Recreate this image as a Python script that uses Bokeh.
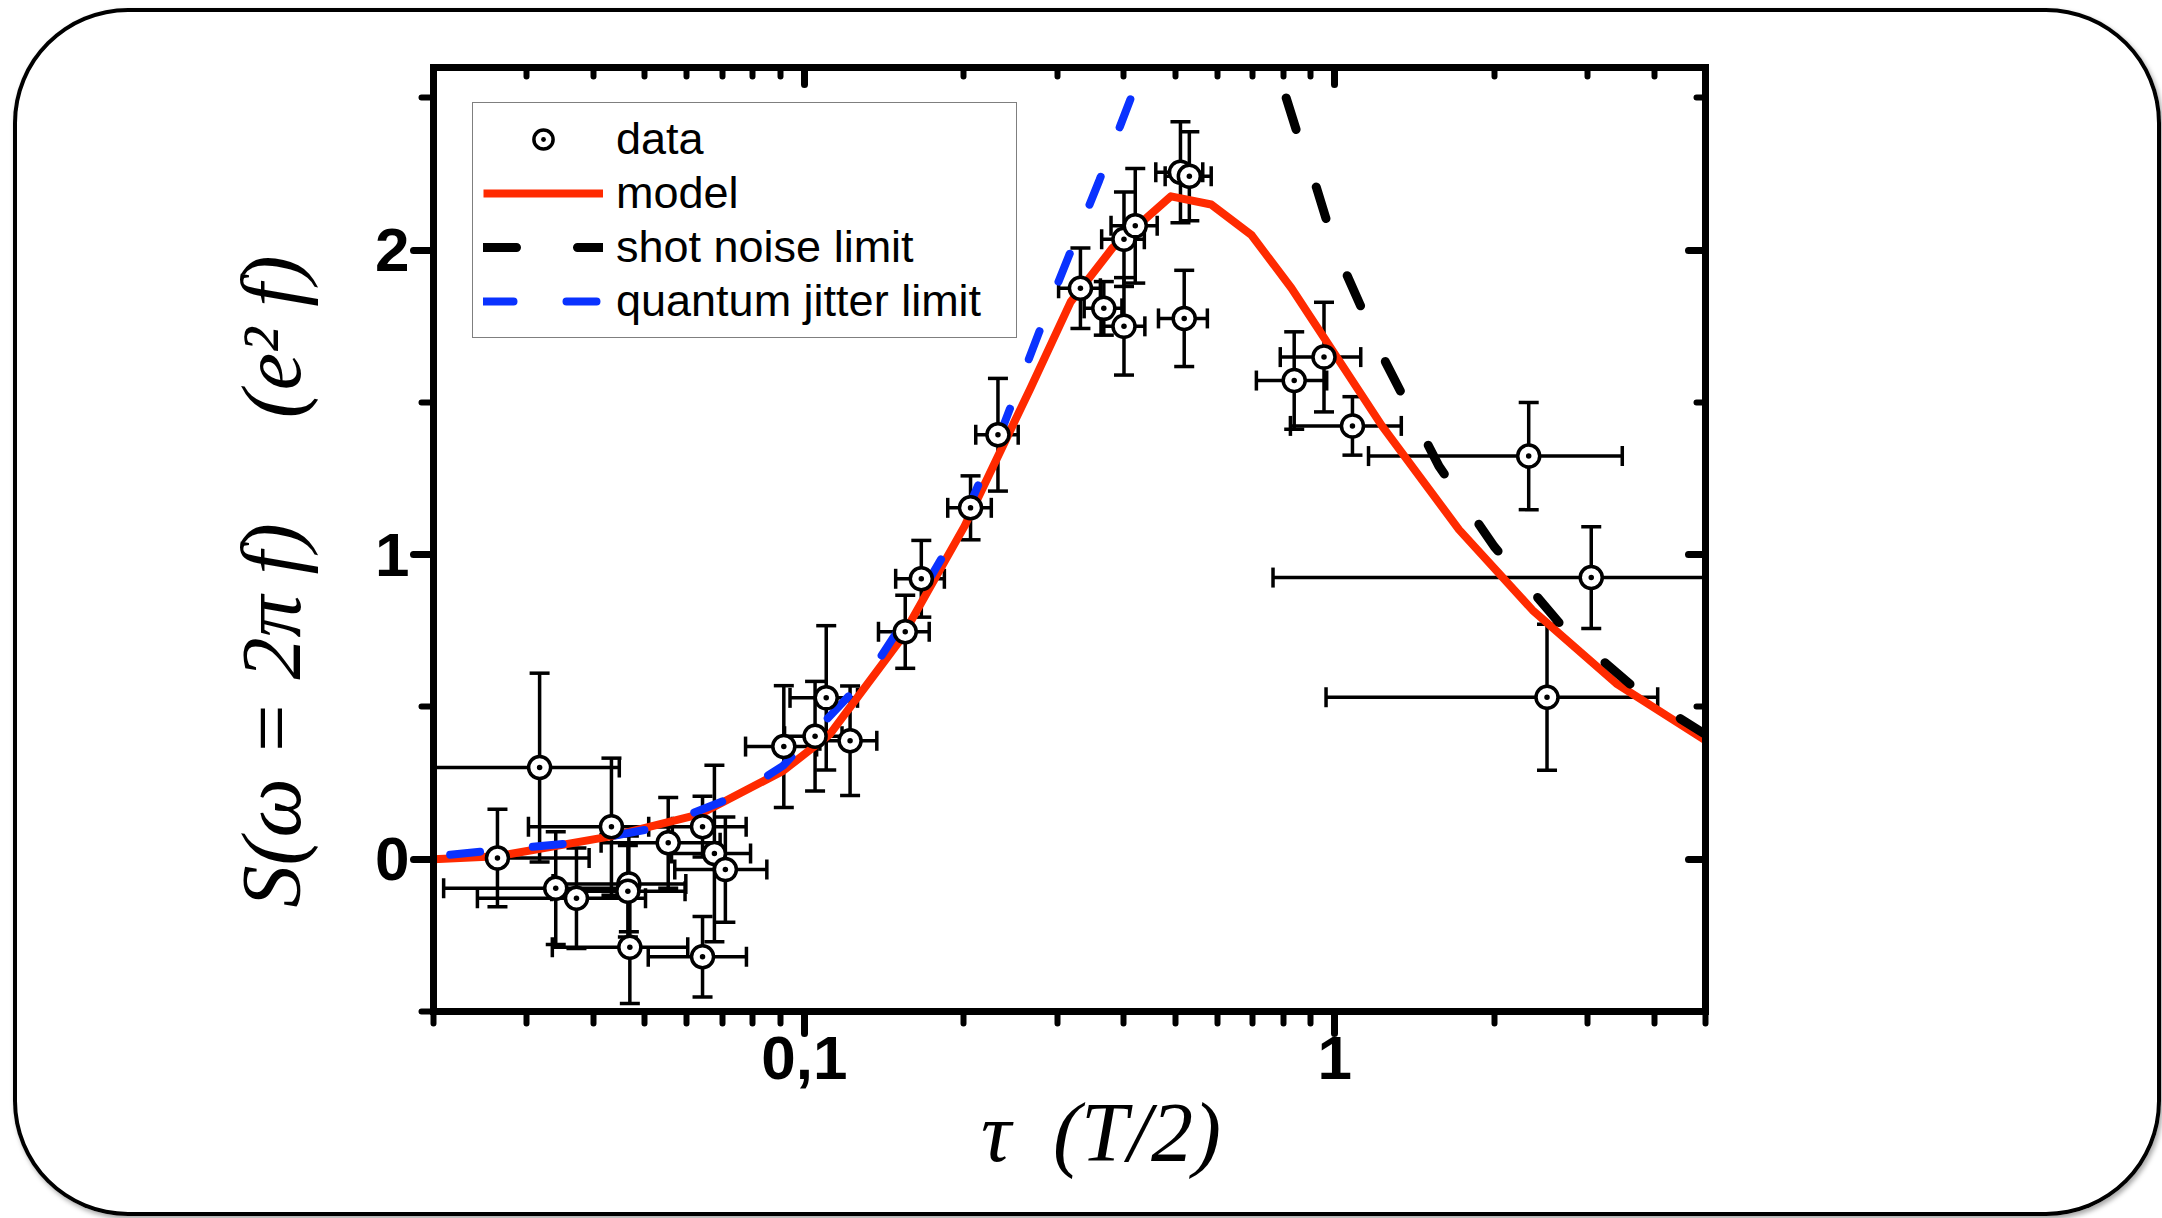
import numpy as np
from bokeh.plotting import figure
from bokeh.models import (ColumnDataSource, FixedTicker, LogAxis, LinearAxis,
                          Legend, LegendItem, Range1d)
from bokeh.embed import file_html
from bokeh.resources import INLINE

# ---------------- data ----------------
tau = [0.0264, 0.0317, 0.0340, 0.0372, 0.0433, 0.0467, 0.0465, 0.0469, 0.0554, 0.0643,
       0.0677, 0.0710, 0.0643, 0.0915, 0.1048, 0.110, 0.122, 0.155, 0.1662, 0.2058,
       0.2318, 0.3316, 0.367, 0.4006, 0.4006, 0.4207, 0.5119, 0.532, 0.5203, 0.8387,
       0.9545, 1.080, 2.321, 3.045, 2.513]
S = [0.004, 0.301, -0.095, -0.128, 0.107, -0.081, -0.105, -0.289, 0.054, 0.107,
     0.019, -0.034, -0.320, 0.370, 0.404, 0.530, 0.389, 0.747, 0.921, 1.154,
     1.394, 1.875, 1.809, 1.750, 2.036, 2.080, 2.256, 2.243, 1.776, 1.572,
     1.649, 1.423, 1.324, 0.925, 0.532]
tau_err = [0.0129, 0.0131, 0.0131, 0.0130, 0.0131, 0.0131, 0.0131, 0.0134, 0.0140, 0.0134,
           0.0115, 0.0140, 0.0135, 0.0140, 0.0130, 0.0160, 0.0150, 0.0170, 0.0175, 0.0194,
           0.0213, 0.0300, 0.0300, 0.0380, 0.0370, 0.0420, 0.0520, 0.0530, 0.0550, 0.1270,
           0.1650, 0.2550, 1.1630, 2.2800, 1.5500]
S_err = [0.160, 0.310, 0.185, 0.165, 0.225, 0.157, 0.150, 0.185, 0.149, 0.100,
         0.290, 0.173, 0.132, 0.200, 0.180, 0.237, 0.180, 0.120, 0.126, 0.105,
         0.185, 0.132, 0.088, 0.160, 0.155, 0.188, 0.166, 0.146, 0.158, 0.160,
         0.180, 0.096, 0.176, 0.167, 0.240]

model_tau = [0.02, 0.0264, 0.0434, 0.0634, 0.0912, 0.1117, 0.1517, 0.2004, 0.2667, 0.318,
             0.381, 0.4913, 0.585, 0.6966, 0.829, 1.2276, 1.715, 2.36, 3.396, 5.0]
model_S = [0.0, 0.01, 0.076, 0.147, 0.29, 0.41, 0.72, 1.093, 1.545, 1.831,
           2.007, 2.177, 2.15, 2.05, 1.875, 1.423, 1.0825, 0.818, 0.577, 0.39]

jitter_tau = [0.0215, 0.037, 0.0525, 0.0744, 0.0912, 0.133, 0.159, 0.197, 0.2346, 0.298,
              0.36, 0.394, 0.417]
jitter_S = [0.015, 0.054, 0.103, 0.208, 0.307, 0.61, 0.818, 1.093, 1.40, 1.875,
            2.23, 2.408, 2.52]

shot_tau = [0.81, 0.861, 0.924, 0.971, 1.041, 1.117, 1.21, 1.572, 1.998, 2.672, 3.814, 5.0]
shot_S = [2.50, 2.353, 2.205, 2.083, 1.94, 1.82, 1.677, 1.291, 1.027, 0.769, 0.538, 0.41]

x_ticks = [0.1, 1]
x_tick_labels = ["0,1", "1"]
x_minor_ticks = [0.02, 0.03, 0.04, 0.05, 0.06, 0.07, 0.08, 0.09,
                 0.2, 0.3, 0.4, 0.5, 0.6, 0.7, 0.8, 0.9, 2, 3, 4, 5]
y_ticks = [0, 1, 2]
y_tick_labels = ["0", "1", "2"]
y_minor_ticks = [-0.5, 0.5, 1.5, 2.5]

legend_labels = ["data", "model", "shot noise limit", "quantum jitter limit"]
NB = "\u00a0"
x_label = NB * 3 + "τ" + NB * 2 + "(T/2)"
y_label = "S(ω = 2π f)" + NB * 5 + "(e²" + NB + "f)" + NB * 4

# ---------------- figure ----------------
OFF_X, OFF_Y = 13, 8            # where the rounded card sits on the page
W, H = 2148, 1208
FL, FT, FW, FH = 433 - OFF_X, 67 - OFF_Y, 1272, 944   # plot frame inside the card
p = figure(width=W, height=H, x_axis_type="log",
           x_range=Range1d(0.02, 5), y_range=Range1d(-0.5, 2.6),
           output_backend="svg", toolbar_location=None,
           min_border_left=FL, min_border_right=W - FL - FW,
           min_border_top=FT, min_border_bottom=H - FT - FH)
p.grid.visible = False
p.outline_line_color = None
p.background_fill_color = "white"
p.border_fill_color = None
p.styles = {"margin": f"{OFF_Y}px 0px 0px {OFF_X}px",
            "border-radius": "115px",
            "box-shadow": "inset 0 0 0 4px #000000, 2px 3px 5px rgba(0,0,0,0.35)",
            "overflow": "hidden",
            "background-color": "#ffffff"}

AX_W = 7
TICK_FONT = "Liberation Sans"


def style_axis(ax, tin, tout, mtin, mtout):
    ax.axis_line_width = AX_W
    ax.axis_line_color = "black"
    ax.axis_line_cap = "square"
    ax.major_tick_line_width = AX_W
    ax.minor_tick_line_width = AX_W - 1
    ax.major_tick_line_cap = "round"
    ax.minor_tick_line_cap = "round"
    ax.major_tick_line_color = "black"
    ax.minor_tick_line_color = "black"
    ax.major_tick_in = tin
    ax.major_tick_out = tout
    ax.minor_tick_in = mtin
    ax.minor_tick_out = mtout
    ax.major_label_text_font = TICK_FONT
    ax.major_label_text_font_style = "bold"
    ax.major_label_text_font_size = "62px"
    ax.major_label_text_color = "black"
    ax.axis_label_text_color = "black"


xt = FixedTicker(ticks=x_ticks, minor_ticks=x_minor_ticks)
yt = FixedTicker(ticks=y_ticks, minor_ticks=y_minor_ticks)

xb = p.xaxis[0]
xb.ticker = xt
xb.major_label_overrides = dict(zip(x_ticks, x_tick_labels))
style_axis(xb, 0, 22, 0, 12)
xb.major_label_standoff = 3
xb.axis_label = x_label
xb.axis_label_text_font = "Liberation Serif"
xb.axis_label_text_font_style = "italic"
xb.axis_label_text_font_size = "84px"
xb.axis_label_standoff = 4

yl = p.yaxis[0]
yl.ticker = yt
yl.major_label_overrides = dict(zip(y_ticks, y_tick_labels))
style_axis(yl, 0, 20, 0, 12)
yl.major_label_standoff = 4
yl.axis_label = y_label
yl.axis_label_text_font = "Liberation Serif"
yl.axis_label_text_font_style = "italic"
yl.axis_label_text_font_size = "84px"
yl.axis_label_standoff = 54

top = LogAxis(ticker=xt, major_label_overrides={t: "" for t in x_ticks})
style_axis(top, 17, 0, 9, 0)
p.add_layout(top, "above")

right = LinearAxis(ticker=yt, major_label_overrides={t: "" for t in y_ticks})
style_axis(right, 17, 0, 9, 0)
p.add_layout(right, "right")

# ---------------- error bars ----------------
t = np.array(tau)
s = np.array(S)
te = np.array(tau_err)
se = np.array(S_err)
src = ColumnDataSource(dict(x=t, y=s, xlo=t - te, xhi=t + te, ylo=s - se, yhi=s + se))

EB_W = 3.5
p.segment(x0="x", y0="ylo", x1="x", y1="yhi", source=src, line_color="black", line_width=EB_W)
p.segment(x0="xlo", y0="y", x1="xhi", y1="y", source=src, line_color="black", line_width=EB_W)
for xc, yc, ang in (("x", "ylo", 0), ("x", "yhi", 0), ("xlo", "y", np.pi / 2), ("xhi", "y", np.pi / 2)):
    p.scatter(x=xc, y=yc, source=src, marker="dash", size=20, angle=ang,
              line_color="black", line_width=EB_W)

# ---------------- curves ----------------
r_model = p.line(model_tau, model_S, line_color="#ff2a00", line_width=8, line_join="round")
r_shot = p.line(shot_tau, shot_S, line_color="black", line_width=9,
                line_dash="33 61", line_cap="round")
r_jit = p.line(jitter_tau, jitter_S, line_color="#0a32ff", line_width=8,
               line_dash="30 53", line_cap="round")

# ---------------- data markers ----------------
r_circ = p.scatter(x="x", y="y", source=src, marker="circle_dot", size=22,
                   fill_color="white", line_color="black", line_width=3.5)

legend = Legend(items=[
    LegendItem(label=legend_labels[0], renderers=[r_circ]),
    LegendItem(label=legend_labels[1], renderers=[r_model]),
    LegendItem(label=legend_labels[2], renderers=[r_shot]),
    LegendItem(label=legend_labels[3], renderers=[r_jit]),
], location=(472 - 433, 1011 - 338), margin=0, padding=10, spacing=2,
    glyph_width=120, glyph_height=48, label_standoff=13, label_width=390,
    label_text_font="Liberation Sans", label_text_font_size="45px",
    label_text_color="black",
    border_line_color="black", border_line_width=1.5,
    background_fill_color="white", background_fill_alpha=1.0)
p.add_layout(legend, "center")

open("out.html", "w").write(file_html(p, INLINE))
